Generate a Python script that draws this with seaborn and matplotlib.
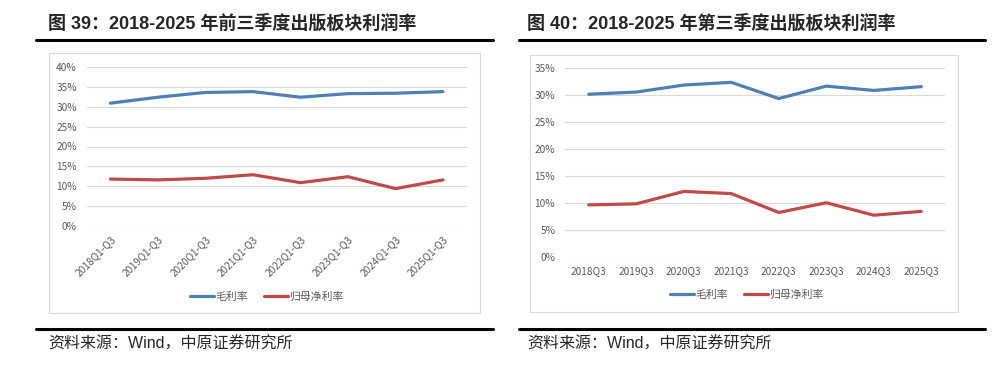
import matplotlib
matplotlib.use("Agg")
import matplotlib.pyplot as plt
import seaborn as sns
import pandas as pd
from matplotlib.patches import Rectangle
from matplotlib.lines import Line2D
from matplotlib.ticker import PercentFormatter

sns.set_theme(style="white")
plt.rcParams['font.family'] = ['Noto Sans CJK SC', 'DejaVu Sans']
mixed = ['Liberation Sans', 'Noto Sans CJK SC']

# data (percent)
q13_labels = ["2018Q1-Q3", "2019Q1-Q3", "2020Q1-Q3", "2021Q1-Q3",
              "2022Q1-Q3", "2023Q1-Q3", "2024Q1-Q3", "2025Q1-Q3"]
q13_gross = [30.9, 32.4, 33.6, 33.8, 32.4, 33.3, 33.4, 33.8]
q13_net = [11.8, 11.6, 12.0, 12.9, 10.9, 12.4, 9.4, 11.6]

q3_labels = ["2018Q3", "2019Q3", "2020Q3", "2021Q3",
             "2022Q3", "2023Q3", "2024Q3", "2025Q3"]
q3_gross = [30.2, 30.6, 31.9, 32.4, 29.4, 31.7, 30.9, 31.6]
q3_net = [9.7, 9.9, 12.2, 11.8, 8.3, 10.1, 7.8, 8.5]

series_names = ["毛利率", "归母净利率"]
palette = {"毛利率": "#4f7fb3", "归母净利率": "#be4b48"}

W, H = 1001, 370
fig = plt.figure(figsize=(W / 100, H / 100), dpi=100)


def px_axes(x0, y0, x1, y1):
    # pixel box (top-left origin) -> figure axes
    return fig.add_axes([x0 / W, 1 - y1 / H, (x1 - x0) / W, (y1 - y0) / H])


def hline(x0, x1, y, lw):
    fig.add_artist(Line2D([x0 / W, x1 / W], [1 - y / H, 1 - y / H],
                          transform=fig.transFigure, color="black", lw=lw))


def box(x0, y0, x1, y1):
    fig.add_artist(Rectangle((x0 / W, 1 - y1 / H), (x1 - x0) / W, (y1 - y0) / H,
                             transform=fig.transFigure, fill=False,
                             edgecolor="#d9d9d9", lw=0.8))


def panel(ax, labels, gross, net, ymax, rotate, legend_x, legend_y):
    df = pd.DataFrame({
        "period": labels * 2,
        "value": [v / 100 for v in gross] + [v / 100 for v in net],
        "series": [series_names[0]] * len(labels) + [series_names[1]] * len(labels),
    })
    sns.lineplot(data=df, x="period", y="value", hue="series", palette=palette,
                 linewidth=2.3, ax=ax, sort=False, legend=False)
    ax.set_xlim(-0.5, len(labels) - 0.5)
    ax.set_ylim(0, ymax / 100)
    ax.set_yticks([t / 100 for t in range(0, ymax + 1, 5)])
    ax.yaxis.set_major_formatter(PercentFormatter(1.0, decimals=0))
    ax.grid(axis="y", color="#d9d9d9", lw=0.8)
    ax.set_axisbelow(True)
    for s in ax.spines.values():
        s.set_visible(False)
    ax.set_xlabel("")
    ax.set_ylabel("")
    ax.tick_params(axis="both", length=0, labelsize=7.3, colors="#595959")
    ax.tick_params(axis="y", pad=7)
    ax.tick_params(axis="x", pad=6)
    if rotate:
        for t in ax.get_xticklabels():
            t.set_rotation(45)
            t.set_ha("right")
            t.set_rotation_mode("anchor")
    handles = [Line2D([], [], color=palette[n], lw=2.3) for n in series_names]
    fig.legend(handles, series_names, loc="center", ncol=2, frameon=False,
               bbox_to_anchor=(legend_x / W, 1 - legend_y / H),
               fontsize=7.8, labelcolor="#595959", handlelength=2.2,
               handletextpad=0.1, columnspacing=1.5)


# left panel
fig.text(48 / W, 1 - 24 / H, "图 39：2018-2025 年前三季度出版板块利润率",
         fontsize=13, fontweight="bold", va="center", ha="left", family=mixed)
hline(36, 493, 40, 2.2)
box(49, 53, 480, 313)
ax1 = px_axes(86.7, 67, 466.7, 226)
panel(ax1, q13_labels, q13_gross, q13_net, 40, True, 267, 297)
hline(36, 493, 329, 2.2)
fig.text(48 / W, 1 - 344 / H, "资料来源：Wind，中原证券研究所",
         fontsize=11.5, va="center", ha="left", family=mixed)

# right panel
fig.text(527 / W, 1 - 24 / H, "图 40：2018-2025 年第三季度出版板块利润率",
         fontsize=13, fontweight="bold", va="center", ha="left", family=mixed)
hline(519, 985, 40, 2.2)
box(530, 55, 958, 312)
ax2 = px_axes(565, 68.3, 945, 257.3)
panel(ax2, q3_labels, q3_gross, q3_net, 35, False, 747, 295)
hline(519, 985, 329, 2.2)
fig.text(527 / W, 1 - 344 / H, "资料来源：Wind，中原证券研究所",
         fontsize=11.5, va="center", ha="left", family=mixed)

fig.savefig("out.png", dpi=100, facecolor="white")
